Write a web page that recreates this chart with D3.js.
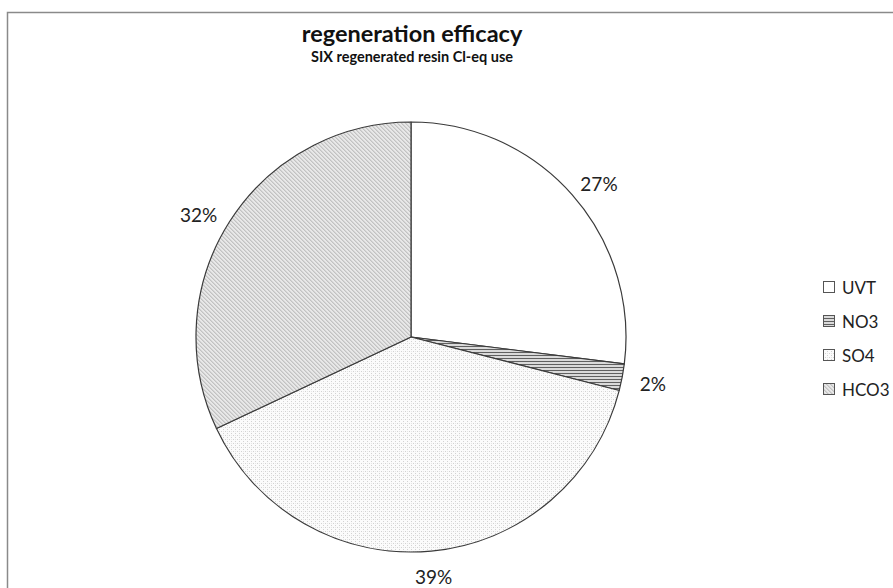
<!DOCTYPE html>
<html>
<head>
<meta charset="utf-8">
<script src="https://cdn.jsdelivr.net/npm/d3@7"></script>
<style>
  html, body { margin: 0; padding: 0; background: #fff; }
  svg { display: block; font-family: Lato, "Open Sans", sans-serif; }
</style>
</head>
<body>
<svg id="chart" width="893" height="588"></svg>
<script>
const title = "regeneration efficacy";
const subtitle = "SIX regenerated resin Cl-eq use";
const categories = ["UVT", "NO3", "SO4", "HCO3"];
const values = [27, 2, 39, 32];
const patternIds = ["p-uvt", "p-no3", "p-so4", "p-hco3"];

const svg = d3.select("#chart");
const W = 893, H = 588;

// patterns
const defs = svg.append("defs");
defs.append("pattern").attr("id", "p-uvt").attr("width", 4).attr("height", 4)
  .attr("patternUnits", "userSpaceOnUse")
  .append("rect").attr("width", 4).attr("height", 4).attr("fill", "#fff");
{
  const p = defs.append("pattern").attr("id", "p-no3").attr("width", 4).attr("height", 3)
    .attr("patternUnits", "userSpaceOnUse");
  p.append("rect").attr("width", 4).attr("height", 3).attr("fill", "#dadada");
  p.append("rect").attr("y", 0).attr("width", 4).attr("height", 1).attr("fill", "#606060");
}
{
  const p = defs.append("pattern").attr("id", "p-so4").attr("width", 4).attr("height", 4)
    .attr("patternUnits", "userSpaceOnUse");
  p.append("rect").attr("width", 4).attr("height", 4).attr("fill", "#fbfbfb");
  p.append("rect").attr("x", 0).attr("y", 0).attr("width", 1).attr("height", 1).attr("fill", "#d2d2d2");
  p.append("rect").attr("x", 2).attr("y", 2).attr("width", 1).attr("height", 1).attr("fill", "#d2d2d2");
  p.append("rect").attr("x", 0).attr("y", 2).attr("width", 1).attr("height", 1).attr("fill", "#e6e6e6");
}
{
  const p = defs.append("pattern").attr("id", "p-hco3").attr("width", 4).attr("height", 4)
    .attr("patternUnits", "userSpaceOnUse");
  p.append("rect").attr("width", 4).attr("height", 4).attr("fill", "#e8e8e8");
  [[0,0],[1,1],[2,2],[3,3]].forEach(([x,y]) =>
    p.append("rect").attr("x", x).attr("y", y).attr("width", 1).attr("height", 1).attr("fill", "#c2c2c2"));
  [[1,0],[2,1],[3,2],[0,3]].forEach(([x,y]) =>
    p.append("rect").attr("x", x).attr("y", y).attr("width", 1).attr("height", 1).attr("fill", "#d4d4d4"));
}

// chart border
svg.append("rect").attr("x", 7.5).attr("y", 12.5).attr("width", W + 10).attr("height", H + 10)
  .attr("fill", "none").attr("stroke", "#8a8a8a").attr("stroke-width", 1.5);

// titles
svg.append("text").attr("x", 412).attr("y", 42).attr("text-anchor", "middle")
  .attr("font-size", 23.5).attr("font-weight", "bold").attr("fill", "#111").text(title);
svg.append("text").attr("x", 412).attr("y", 62).attr("text-anchor", "middle")
  .attr("font-size", 14.5).attr("font-weight", "bold").attr("fill", "#111").text(subtitle);

// pie
const cx = 411, cy = 337, R = 215;
const color = d3.scaleOrdinal().domain(categories).range(patternIds.map(id => `url(#${id})`));
const pie = d3.pie().value(d => d.value).sort(null);
const data = categories.map((c, i) => ({ cat: c, value: values[i] }));
const arcs = pie(data);
const total = d3.sum(values);
const arc = d3.arc().innerRadius(0).outerRadius(R);

const g = svg.append("g").attr("transform", `translate(${cx},${cy})`);
g.selectAll("path.slice").data(arcs).join("path")
  .attr("class", "slice")
  .attr("d", arc)
  .attr("fill", d => color(d.data.cat))
  .attr("stroke", "#3a3a3a")
  .attr("stroke-width", 1.2)
  .attr("stroke-linejoin", "round");

// labels: place box just outside the arc
const labels = g.selectAll("text.lbl").data(arcs).join("text")
  .attr("class", "lbl")
  .attr("text-anchor", "middle")
  .attr("dominant-baseline", "central")
  .attr("font-size", 19)
  .attr("fill", "#222")
  .text(d => d3.format(".0%")(d.data.value / total));
labels.each(function(d) {
  const bb = this.getBBox();
  const a = (d.startAngle + d.endAngle) / 2;
  const s = Math.sin(a), c = Math.cos(a);
  const hw = bb.width / 2, hh = 7;
  const r = R + 17 + Math.abs(s) * hw + Math.abs(c) * hh;
  const dy = c > 0.2 ? 12 : 0;
  d3.select(this).attr("transform", `translate(${r * s},${-r * c + dy})`);
});

// legend
const ly = d3.scalePoint().domain(categories).range([287, 389]);
const lg = svg.append("g");
const items = lg.selectAll("g").data(categories).join("g")
  .attr("transform", c => `translate(823,${ly(c)})`);
items.append("rect").attr("x", 0.5).attr("y", -5.5).attr("width", 11).attr("height", 11)
  .attr("fill", c => color(c)).attr("stroke", "#555").attr("stroke-width", 1);
items.append("text").attr("x", 19).attr("y", 0).attr("dominant-baseline", "central")
  .attr("font-size", 17).attr("fill", "#222").text(c => c);
</script>
</body>
</html>
